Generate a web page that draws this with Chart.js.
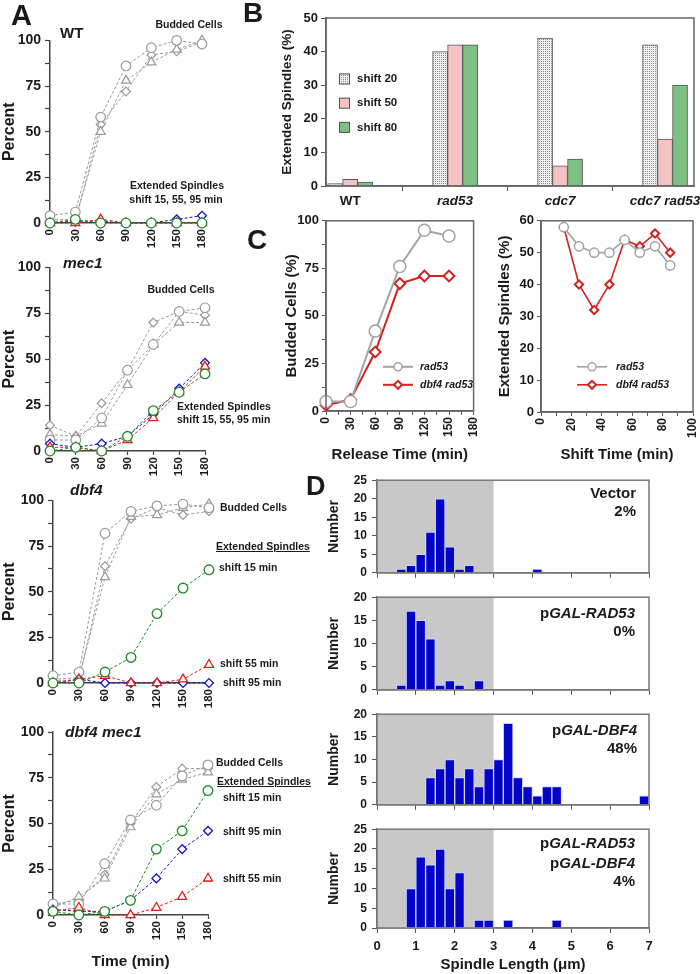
<!DOCTYPE html>
<html>
<head>
<meta charset="utf-8">
<title>Spindle figure</title>
<script src="https://cdn.jsdelivr.net/npm/chart.js@4.4.0/dist/chart.umd.min.js"></script>
<style>
  html, body { margin: 0; background: #fff; }
  #fig { position: relative; width: 700px; height: 974px; overflow: hidden; font-family: 'Liberation Sans', Arial, sans-serif; color: #1a1a1a; }
  #fig canvas { position: absolute; }
  .t { position: absolute; font-weight: bold; white-space: nowrap; line-height: 1; }
</style>
</head>
<body>
<div id="fig"></div>
<script>
// ---------- A: percent vs time ----------
const times = [0, 30, 60, 90, 120, 150, 180];
const shiftsA = [15, 55, 95];
// budded cells: circle, triangle, diamond repeats
const wtBudded = [[4, 6, 58, 86, 96, 100, 98], [2, 2, 50, 78, 88, 95, 100], [1, 1, 54, 72, 92, 94, 99]];
// extended spindles: shift 15 (green), shift 55 (red), shift 95 (blue)
const wtSpindles = [[0, 2, 0, 0, 0, 0, 0], [0, 0, 2, 0, 0, 0, 0], [0, 1, 1, 0, 0, 2, 4]];
const mec1Budded = [[6, 6, 18, 44, 58, 76, 78], [9, 8, 15, 36, 58, 70, 70], [14, 8, 26, 44, 70, 76, 74]];
const mec1Spindles = [[0, 2, 0, 8, 22, 32, 42], [2, 2, 0, 6, 18, 32, 46], [4, 2, 4, 8, 20, 34, 48]];
const dbf4Budded = [[4, 6, 82, 94, 97, 98, 96], [2, 3, 58, 91, 92, 96, 98], [1, 2, 64, 90, 96, 92, 94]];
const dbf4Spindles = [[0, 0, 6, 14, 38, 52, 62], [0, 2, 4, 0, 0, 2, 10], [0, 2, 0, 0, 0, 0, 0]];
const dbf4mec1Budded = [[6, 6, 28, 52, 60, 76, 82], [4, 10, 20, 48, 66, 74, 78], [6, 8, 22, 50, 70, 80, 80]];
const dbf4mec1Spindles = [[2, 0, 2, 8, 36, 46, 68], [2, 4, 0, 0, 4, 10, 20], [3, 2, 2, 8, 20, 36, 46]];

// ---------- B: extended spindles by strain ----------
const strains = ['WT', 'rad53', 'cdc7', 'cdc7 rad53'];
const shift20 = [0.7, 40, 44, 42];
const shift50 = [2, 42, 6, 14];
const shift80 = [1.2, 42, 8, 30];

// ---------- C ----------
const releaseTimes = [0, 30, 60, 90, 120, 150];
const buddedRad53 = [5, 5, 42, 76, 95, 92];
const buddedDbf4Rad53 = [3, 6, 31, 67, 71, 71];
const shiftTimes = [15, 25, 35, 45, 55, 65, 75, 85];
const spindlesRad53 = [58, 52, 50, 50, 54, 50, 52, 46];
const spindlesDbf4Rad53 = [58, 40, 32, 40, 54, 52, 56, 50];

// ---------- D: spindle length histograms (bin lower edge, count) ----------
const binW = 0.25;
const vectorBins = [0.5, 0.75, 1, 1.25, 1.5, 1.75, 2, 2.25, 4];
const vectorCounts = [1, 2, 5, 11, 20, 7, 1, 2, 1];
const rad53Bins = [0.5, 0.75, 1, 1.25, 1.5, 1.75, 2, 2.25, 2.5];
const rad53Counts = [1, 17, 15, 11, 1, 2, 1, 0, 2];
const dbf4Bins = [1.25, 1.5, 1.75, 2, 2.25, 2.5, 2.75, 3, 3.25, 3.5, 3.75, 4, 4.25, 4.5, 6.75];
const dbf4Counts = [6, 8, 10, 6, 8, 4, 8, 10, 18, 6, 4, 2, 4, 4, 2];
const bothBins = [0.75, 1, 1.25, 1.5, 1.75, 2, 2.5, 2.75, 3.25, 4.5];
const bothCounts = [10, 18, 16, 20, 10, 14, 2, 2, 2, 2];

const FONT = "'Liberation Sans', Arial, sans-serif";
Chart.defaults.font.family = FONT;
Chart.defaults.font.weight = 'bold';
Chart.defaults.color = '#1a1a1a';
Chart.defaults.animation = false;
Chart.defaults.plugins.legend.display = false;
Chart.defaults.plugins.tooltip.enabled = false;

const fig = document.getElementById('fig');
const axisCol = '#444';
const grayA = '#9a9a9a';
const extColors = ['#1f8a24', '#e0201c', '#1414c0'];
const markers = ['circle', 'triangle', 'rectRot'];

function makeCanvas(box) {
  const c = document.createElement('canvas');
  c.width = box.w; c.height = box.h;
  c.style.left = box.x + 'px'; c.style.top = box.y + 'px';
  c.style.width = box.w + 'px'; c.style.height = box.h + 'px';
  fig.appendChild(c);
  return c;
}

// padding + axis sizes so the chart area lands where it should
function geom(box, area, yTitleX, yLh, xTitleY, xLh) {
  const pl = yTitleX == null ? 0 : Math.max(0, yTitleX - yLh / 2 - box.x);
  const pb = xTitleY == null ? 0 : Math.max(0, box.y + box.h - xTitleY - xLh / 2);
  return {
    padding: { left: pl, top: area.t - box.y, right: box.x + box.w - area.r, bottom: pb },
    yW: area.l - box.x - pl,
    xH: box.y + box.h - pb - area.b
  };
}

function label(html, x, cy, size, align, extra) {
  const d = document.createElement('div');
  d.className = 't';
  d.innerHTML = html;
  d.style.fontSize = size + 'px';
  d.style.top = (cy - size / 2) + 'px';
  if (align === 'right') d.style.right = (700 - x) + 'px';
  else if (align === 'center') { d.style.left = x + 'px'; d.style.transform = 'translateX(-50%)'; }
  else d.style.left = x + 'px';
  if (extra) Object.assign(d.style, extra);
  fig.appendChild(d);
}

const framePlugin = {
  id: 'frame',
  afterDatasetsDraw(chart, args, o) {
    const { ctx, chartArea: a } = chart;
    ctx.save();
    ctx.strokeStyle = o.color;
    ctx.lineWidth = o.width;
    ctx.strokeRect(a.left, a.top, a.right - a.left, a.bottom - a.top);
    ctx.restore();
  }
};

const shadePlugin = {
  id: 'shade',
  beforeDatasetsDraw(chart, args, o) {
    const { ctx, chartArea: a, scales: { x } } = chart;
    const x0 = x.getPixelForValue(o.from), x1 = x.getPixelForValue(o.to);
    ctx.save();
    ctx.fillStyle = o.color;
    ctx.fillRect(x0, a.top, x1 - x0, a.bottom - a.top);
    ctx.restore();
  }
};

const keyPlugin = {
  id: 'key',
  afterDatasetsDraw(chart, args, o) {
    const { ctx, chartArea: a } = chart;
    chart.data.datasets.forEach((ds, i) => {
      const x = a.left + o.x, y = a.top + o.y + i * o.gap;
      ctx.save();
      if (o.kind === 'box') {
        ctx.fillStyle = ds.backgroundColor;
        ctx.fillRect(x, y - o.size / 2, o.size, o.size);
        ctx.strokeStyle = ds.borderColor; ctx.lineWidth = 1;
        ctx.strokeRect(x + 0.5, y - o.size / 2 + 0.5, o.size - 1, o.size - 1);
      } else {
        ctx.strokeStyle = ds.borderColor; ctx.lineWidth = ds.borderWidth;
        ctx.beginPath(); ctx.moveTo(x, y); ctx.lineTo(x + o.len, y); ctx.stroke();
        ctx.fillStyle = '#fff'; ctx.lineWidth = ds.pointBorderWidth;
        Chart.helpers.drawPoint(ctx, { pointStyle: ds.pointStyle, radius: o.r, borderWidth: ds.pointBorderWidth, rotation: 0 }, x + o.len / 2, y);
      }
      ctx.fillStyle = '#1a1a1a';
      ctx.font = o.font;
      ctx.textBaseline = 'middle';
      ctx.fillText(ds.label, x + o.textX, y);
      ctx.restore();
    });
  }
};

function lineSet(lbl, xs, vals, color, style, opt) {
  return Object.assign({
    label: lbl,
    data: xs.map((x, i) => ({ x: x, y: vals[i] })),
    borderColor: color, borderWidth: 1, borderDash: [3, 2],
    pointStyle: style,
    pointRadius: style === 'rectRot' ? 4.4 : (style === 'triangle' ? 5.2 : 4.8),
    pointBorderColor: color, pointBackgroundColor: '#fff', pointBorderWidth: 1.2,
    clip: false, tension: 0
  }, opt || {});
}

// ---------- panel A ----------
function panelA(box, area, budded, spindles, last) {
  const g = geom(box, area, 10, 19.2, last ? 962 : null, 18);
  const sets = [];
  spindles.forEach((v, i) => sets.push(lineSet('shift ' + shiftsA[i], times, v, extColors[i], markers[i], { pointBorderWidth: 1.3 })));
  budded.forEach((v, i) => sets.push(lineSet('budded', times, v, grayA, markers[i])));
  new Chart(makeCanvas(box), {
    type: 'line',
    data: { datasets: sets },
    options: {
      responsive: false,
      layout: { padding: g.padding },
      scales: {
        x: {
          type: 'linear', min: 0, max: 180,
          afterFit: s => { s.height = g.xH; },
          ticks: { stepSize: 30, font: { size: 11.5 }, minRotation: 90, maxRotation: 90, autoSkip: false, padding: 2 },
          grid: { drawOnChartArea: false, tickLength: 4, tickColor: axisCol, tickWidth: 1.2 },
          border: { color: axisCol, width: 1.5 },
          title: { display: !!last, text: 'Time (min)', font: { size: 15.5 }, padding: 0 }
        },
        y: {
          min: 0, max: 100,
          afterFit: s => { s.width = g.yW; },
          ticks: { stepSize: 12.5, font: { size: 14 }, padding: 4, callback: v => v % 25 === 0 ? v : '' },
          grid: { drawOnChartArea: false, tickLength: 5, tickColor: axisCol, tickWidth: 1.2 },
          border: { color: axisCol, width: 1.5 },
          title: { display: true, text: 'Percent', font: { size: 16 }, padding: 0 }
        }
      }
    }
  });
}

panelA({ x: 0, y: 28, w: 235, h: 222 }, { l: 50, r: 202, t: 39, b: 223 }, wtBudded, wtSpindles, false);
panelA({ x: 0, y: 255, w: 235, h: 222 }, { l: 50, r: 205, t: 266, b: 451 }, mec1Budded, mec1Spindles, false);
panelA({ x: 0, y: 488, w: 235, h: 222 }, { l: 53, r: 209, t: 500, b: 683 }, dbf4Budded, dbf4Spindles, false);
panelA({ x: 0, y: 718, w: 235, h: 256 }, { l: 53, r: 208, t: 732, b: 915 }, dbf4mec1Budded, dbf4mec1Spindles, true);

// ---------- panel B ----------
(function () {
  const box = { x: 245, y: 5, w: 470, h: 207 }, area = { l: 326, r: 694, t: 18, b: 186 };
  const g = geom(box, area, 287, 16.2, null, 0);
  const pc = document.createElement('canvas');
  pc.width = 2; pc.height = 2;
  const px = pc.getContext('2d');
  px.fillStyle = '#f0f0f0'; px.fillRect(0, 0, 2, 2);
  px.fillStyle = '#8c8c8c'; px.fillRect(0, 0, 1, 1);
  const dots = px.createPattern(pc, 'repeat');
  const tickVals = strains.flatMap((s, i) => i ? [i - 0.5, i] : [i]);
  const barSet = (lbl, vals, fill) => ({
    label: lbl, data: vals.map((v, i) => ({ x: i, y: v })),
    backgroundColor: fill, borderColor: '#555', borderWidth: 1, barThickness: 15
  });
  new Chart(makeCanvas(box), {
    type: 'bar',
    data: { datasets: [barSet('shift 20', shift20, dots), barSet('shift 50', shift50, '#f5c3c3'), barSet('shift 80', shift80, '#7cc083')] },
    options: {
      responsive: false,
      layout: { padding: g.padding },
      scales: {
        x: {
          type: 'linear', min: -0.23, max: 3.276, offset: false,
          afterFit: s => { s.height = 26; },
          afterBuildTicks: s => { s.ticks = tickVals.map(v => ({ value: v })); },
          ticks: {
            autoSkip: false, maxRotation: 0, padding: 2,
            callback: v => Number.isInteger(v) ? strains[v] : '',
            font: ctx => ({ size: 13.5, weight: 'bold', style: ctx.tick && ctx.tick.value === 0 ? 'normal' : 'italic' })
          },
          grid: { offset: false, drawOnChartArea: false, tickLength: 5, tickColor: ctx => ctx.tick && Number.isInteger(ctx.tick.value) ? 'rgba(0,0,0,0)' : '#555' },
          border: { color: '#555', width: 1.5 }
        },
        y: {
          min: 0, max: 50,
          afterFit: s => { s.width = g.yW; },
          ticks: { stepSize: 5, font: { size: 13 }, padding: 3, callback: v => v % 10 === 0 ? v : '' },
          grid: { drawOnChartArea: false, tickLength: 5, tickColor: '#555' },
          border: { color: '#555', width: 1.5 },
          title: { display: true, text: 'Extended Spindles (%)', font: { size: 13.5 }, padding: 0 }
        }
      },
      plugins: {
        frame: { color: '#666', width: 1.5 },
        key: { kind: 'box', x: 13, y: 61, gap: 24.2, size: 11, textX: 18, font: 'bold 11.5px ' + FONT }
      }
    },
    plugins: [framePlugin, keyPlugin]
  });
})();

// ---------- panel C ----------
function panelC(box, area, yTitleX, xs, grayVals, redVals, o) {
  const g = geom(box, area, yTitleX, 18, 455, 18);
  new Chart(makeCanvas(box), {
    type: 'line',
    data: {
      datasets: [
        lineSet('rad53', xs, grayVals, '#a3a3a3', 'circle', { borderDash: [], borderWidth: o.lw, pointRadius: o.r, pointBorderWidth: 1.5 }),
        lineSet('dbf4 rad53', xs, redVals, '#d2221e', 'rectRot', { borderDash: [], borderWidth: o.lw, pointRadius: o.r * 0.9, pointBorderWidth: 2 })
      ]
    },
    options: {
      responsive: false,
      layout: { padding: g.padding },
      scales: {
        x: {
          type: 'linear', min: 0, max: o.xMax,
          afterFit: s => { s.height = g.xH; },
          ticks: { stepSize: o.xStep, font: { size: 12 }, minRotation: 90, maxRotation: 90, autoSkip: false, padding: 2, callback: v => v % o.xLab === 0 ? v : '' },
          grid: { drawOnChartArea: false, tickLength: 4, tickColor: '#555' },
          border: { color: '#555', width: 1.5 },
          title: { display: true, text: o.xTitle, font: { size: 15 }, padding: 0 }
        },
        y: {
          min: 0, max: o.yMax,
          afterFit: s => { s.width = g.yW; },
          ticks: { stepSize: o.yStep, font: { size: 13 }, padding: 3, callback: v => v % o.yLab === 0 ? v : '' },
          grid: { drawOnChartArea: false, tickLength: 4, tickColor: '#555' },
          border: { color: '#555', width: 1.5 },
          title: { display: true, text: o.yTitle, font: { size: 15 }, padding: 0 }
        }
      },
      plugins: {
        frame: { color: '#666', width: 1.5 },
        key: { kind: 'line', x: o.keyX, y: 146, gap: 18, len: 30, r: 4, textX: o.keyText, font: 'italic bold 10.5px ' + FONT }
      }
    },
    plugins: [framePlugin, keyPlugin]
  });
}

panelC({ x: 245, y: 210, w: 245, h: 258 }, { l: 326, r: 480, t: 220, b: 411 }, 292, releaseTimes, buddedRad53, buddedDbf4Rad53,
  { xMax: 180, xStep: 15, xLab: 30, yMax: 100, yStep: 12.5, yLab: 25, xTitle: 'Release Time (min)', yTitle: 'Budded Cells (%)', lw: 2, r: 6, keyX: 57, keyText: 37 });
panelC({ x: 490, y: 210, w: 220, h: 258 }, { l: 541, r: 693, t: 220, b: 412 }, 505, shiftTimes, spindlesRad53, spindlesDbf4Rad53,
  { xMax: 100, xStep: 10, xLab: 20, yMax: 60, yStep: 5, yLab: 10, xTitle: 'Shift Time (min)', yTitle: 'Extended Spindles (%)', lw: 1.6, r: 4.6, keyX: 36, keyText: 39 });

// ---------- panel D ----------
function hist(box, area, bins, counts, yMax, showX) {
  const g = geom(box, area, 334, 16.8, showX ? 965 : null, 18);
  new Chart(makeCanvas(box), {
    type: 'bar',
    data: {
      datasets: [{
        data: bins.map((b, i) => ({ x: b + binW / 2, y: counts[i] })),
        backgroundColor: '#0404c8', borderColor: '#cfd6ff', borderWidth: 1,
        barPercentage: 1, categoryPercentage: 1
      }]
    },
    options: {
      responsive: false,
      layout: { padding: g.padding },
      scales: {
        x: {
          type: 'linear', min: 0, max: 7, offset: false,
          afterFit: s => { s.height = g.xH; },
          ticks: { display: showX, stepSize: 1, font: { size: 13 }, padding: 6, maxRotation: 0 },
          grid: { offset: false, drawOnChartArea: false, tickLength: 5, tickColor: '#555' },
          border: { color: '#666', width: 1.5 },
          title: { display: showX, text: 'Spindle Length (μm)', font: { size: 15 }, padding: 0 }
        },
        y: {
          min: 0, max: yMax,
          afterFit: s => { s.width = g.yW; },
          ticks: { stepSize: 5, font: { size: 12 }, padding: 5 },
          grid: { drawOnChartArea: false, tickLength: 5, tickColor: '#555' },
          border: { color: '#666', width: 1.5 },
          title: { display: true, text: 'Number', font: { size: 14 }, padding: 0 }
        }
      },
      plugins: {
        shade: { from: 0, to: 3, color: '#c8c8c8' },
        frame: { color: '#777', width: 1.5 }
      }
    },
    plugins: [shadePlugin, framePlugin]
  });
}

hist({ x: 300, y: 468, w: 410, h: 117 }, { l: 377, r: 649, t: 478, b: 579 }, vectorBins, vectorCounts, 25, false);
hist({ x: 300, y: 585, w: 410, h: 117 }, { l: 377, r: 649, t: 593, b: 694 }, rad53Bins, rad53Counts, 20, false);
hist({ x: 300, y: 702, w: 410, h: 115 }, { l: 377, r: 649, t: 710, b: 811 }, dbf4Bins, dbf4Counts, 20, false);
hist({ x: 300, y: 817, w: 410, h: 157 }, { l: 377, r: 649, t: 825, b: 928 }, bothBins, bothCounts, 25, true);

// ---------- text ----------
label('A', 11, 15, 29);
label('B', 243, 13, 28);
label('C', 247, 240, 28);
label('D', 306, 486, 27);

label('WT', 60, 32, 15);
label('<i>mec1</i>', 63, 263, 15.5);
label('<i>dbf4</i>', 70, 490, 15.5);
label('<i>dbf4 mec1</i>', 65, 732, 15.5);

label('Budded Cells', 189, 24, 10.5, 'center');
label('Extended Spindles', 177, 185, 10.5, 'center');
label('shift 15, 55, 95 min', 176, 199, 10.5, 'center');

label('Budded Cells', 181, 289, 10.5, 'center');
label('Extended Spindles', 177, 406, 10.5);
label('shift 15, 55, 95 min', 177, 419, 10.5);

label('Budded Cells', 220, 507, 10.5);
label('Extended Spindles', 216, 546, 10.5, 'left', { textDecoration: 'underline' });
label('shift 15 min', 219, 567, 10.5);
label('shift 55 min', 220, 663, 10.5);
label('shift 95 min', 223, 682, 10.5);

label('Budded Cells', 216, 762, 10.5);
label('Extended Spindles', 217, 781, 10.5, 'left', { textDecoration: 'underline' });
label('shift 15 min', 223, 797, 10.5);
label('shift 95 min', 223, 831, 10.5);
label('shift 55 min', 223, 878, 10.5);

label('Vector', 636, 492, 15, 'right');
label('2%', 636, 510, 15, 'right');
label('p<i>GAL-RAD53</i>', 635, 612, 15, 'right');
label('0%', 635, 630, 15, 'right');
label('p<i>GAL-DBF4</i>', 637, 729, 15, 'right');
label('48%', 637, 747, 15, 'right');
label('p<i>GAL-RAD53</i>', 635, 842, 15, 'right');
label('p<i>GAL-DBF4</i>', 635, 862, 15, 'right');
label('4%', 635, 880, 15, 'right');
</script>
</body>
</html>
